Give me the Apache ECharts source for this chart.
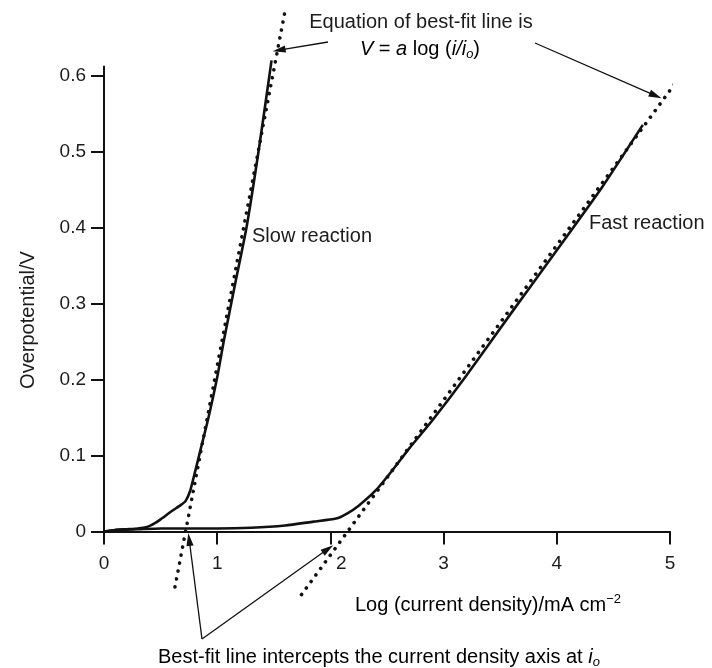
<!DOCTYPE html>
<html><head><meta charset="utf-8">
<script src="https://cdn.jsdelivr.net/npm/echarts@6/dist/echarts.min.js"></script>
<style>html,body{margin:0;padding:0;background:#fff}#c{width:712px;height:668px}</style>
</head><body><div id="c"></div>
<script>
// ---- data ----
const slowX = [0, 0.1, 0.2, 0.3, 0.38, 0.45, 0.5, 0.6, 0.68, 0.72, 0.76, 0.8, 0.86, 0.92, 1.0, 1.06, 1.16, 1.26, 1.37, 1.48];
const slowY = [0, 0.002, 0.003, 0.004, 0.006, 0.011, 0.016, 0.027, 0.035, 0.040, 0.053, 0.076, 0.112, 0.148, 0.203, 0.252, 0.327, 0.401, 0.505, 0.620];
const fastX = [0, 0.1, 0.3, 0.5, 1.0, 1.3, 1.6, 1.85, 2.05, 2.15, 2.25, 2.4, 2.55, 2.7, 2.9, 3.2, 3.6, 4.0, 4.4, 4.76];
const fastY = [0, 0.002, 0.003, 0.004, 0.004, 0.005, 0.008, 0.013, 0.017, 0.024, 0.034, 0.054, 0.081, 0.110, 0.146, 0.205, 0.288, 0.370, 0.453, 0.535];
const slowFitX = [0.627, 1.606];
const slowFitY = [-0.073, 0.690];
const fastFitX = [1.745, 5.13];
const fastFitY = [-0.083, 0.607];
const xTicks = [0, 1, 2, 3, 4, 5];
const xTickLabels = ['0', '1', '2', '3', '4', '5'];
const yTicks = [0, 0.1, 0.2, 0.3, 0.4, 0.5, 0.6];
const yTickLabels = ['0', '0.1', '0.2', '0.3', '0.4', '0.5', '0.6'];
// points the annotation arrows touch (data units)
const arrowSlowFit = [1.49, 0.632];
const arrowFastFit = [4.925, 0.570];
const arrowSlowIo = [0.745, -0.002];
const arrowFastIo = [2.025, -0.018];

const FONT = '"Liberation Sans", Arial, sans-serif';
const INK = '#111';
const TXT = '#1c1c1c';

function pairs(xs, ys) { return xs.map((x, i) => [x, ys[i]]); }

const chart = echarts.init(document.getElementById('c'));
chart.setOption({
  animation: false,
  backgroundColor: '#fff',
  textStyle: { fontFamily: FONT },
  grid: { left: 104, right: 42, top: 66.4, bottom: 136.5, containLabel: false },
  xAxis: {
    type: 'value', min: 0, max: 5, interval: 1,
    axisLine: { show: true, onZero: false, lineStyle: { color: INK, width: 2 } },
    axisTick: { show: true, length: 13, customValues: xTicks, lineStyle: { color: INK, width: 2 } },
    axisLabel: {
      customValues: xTicks, margin: 23, fontSize: 19, color: TXT, fontFamily: FONT,
      formatter: v => {
        const i = xTicks.indexOf(Math.round(v));
        const s = i >= 0 ? xTickLabels[i] : '';
        return Math.round(v) === 2 ? '{s|' + s + '}' : s;
      },
      rich: { s: { fontSize: 19, color: TXT, fontFamily: FONT, padding: [0, 0, 0, 22] } }
    },
    splitLine: { show: false }
  },
  yAxis: {
    type: 'value', min: 0, max: 0.612,
    axisLine: { show: true, onZero: false, lineStyle: { color: INK, width: 2 } },
    axisTick: { show: true, length: 13, customValues: yTicks, lineStyle: { color: INK, width: 2 } },
    axisLabel: {
      customValues: yTicks, margin: 18, fontSize: 19, color: TXT, fontFamily: FONT,
      formatter: v => {
        let best = 0;
        yTicks.forEach((t, i) => { if (Math.abs(t - v) < Math.abs(yTicks[best] - v)) best = i; });
        return yTickLabels[best];
      }
    },
    splitLine: { show: false }
  },
  series: [
    { name: 'Slow reaction', type: 'line', data: pairs(slowX, slowY), showSymbol: false, clip: false,
      smooth: 0.2, lineStyle: { color: INK, width: 2.6 }, z: 3 },
    { name: 'Fast reaction', type: 'line', data: pairs(fastX, fastY), showSymbol: false, clip: false,
      smooth: 0.2, lineStyle: { color: INK, width: 2.6 }, z: 3 },
    { name: 'Slow best fit', type: 'line', data: pairs(slowFitX, slowFitY), showSymbol: false, clip: false,
      lineStyle: { color: INK, width: 3.6, type: [0.1, 8], cap: 'round' }, z: 2 },
    { name: 'Fast best fit', type: 'line', data: pairs(fastFitX, fastFitY), showSymbol: false, clip: false,
      lineStyle: { color: INK, width: 3.6, type: [0.1, 8], cap: 'round' }, z: 2 }
  ]
});

function arrow(x1, y1, x2, y2) {
  const dx = x2 - x1, dy = y2 - y1, L = Math.hypot(dx, dy), ux = dx / L, uy = dy / L;
  const hl = 13, hw = 3.6;
  const bx = x2 - ux * hl, by = y2 - uy * hl;
  return [
    { type: 'line', shape: { x1: x1, y1: y1, x2: bx + ux * 2, y2: by + uy * 2 }, style: { stroke: INK, lineWidth: 1.3 }, z: 10 },
    { type: 'polygon', shape: { points: [[x2, y2], [bx - uy * hw, by + ux * hw], [bx + uy * hw, by - ux * hw]] }, style: { fill: INK }, z: 10 }
  ];
}
const px = p => chart.convertToPixel({ gridIndex: 0 }, p);
const pSlowFit = px(arrowSlowFit), pFastFit = px(arrowFastFit), pSlowIo = px(arrowSlowIo), pFastIo = px(arrowFastIo);

const base = { fontSize: 20, fill: TXT, fontFamily: FONT, lineHeight: 24 };
const rich = {
  n: { fontSize: 20, fontFamily: FONT, color: TXT, lineHeight: 24 },
  it: { fontSize: 20, fontFamily: FONT, fontStyle: 'italic', color: TXT, lineHeight: 24 },
  sub: { fontSize: 13, fontFamily: FONT, fontStyle: 'italic', color: TXT, lineHeight: 24, verticalAlign: 'bottom' },
  sup: { fontSize: 13, fontFamily: FONT, color: TXT, lineHeight: 24, verticalAlign: 'top' }
};

const graphics = [
  { type: 'text', style: Object.assign({}, base, { text: 'Slow reaction', x: 252, y: 236, align: 'left', verticalAlign: 'middle' }) },
  { type: 'text', style: Object.assign({}, base, { text: 'Fast reaction', x: 589, y: 223, align: 'left', verticalAlign: 'middle' }) },
  { type: 'text', style: Object.assign({}, base, { text: 'Equation of best-fit line is', x: 421, y: 22, align: 'center', verticalAlign: 'middle' }) },
  { type: 'text', style: { text: '{it|V}{n| = }{it|a}{n| log (}{it|i/i}{sub|o}{n|)}', rich: rich, x: 420, y: 49, align: 'center', verticalAlign: 'middle' } },
  { type: 'text', style: { text: '{n|Log (current density)/mA cm}{sup|−2}', rich: rich, x: 355, y: 605, align: 'left', verticalAlign: 'middle' } },
  { type: 'text', style: { text: '{n|Best-fit line intercepts the current density axis at }{it|i}{sub|o}', rich: rich, x: 158, y: 657, align: 'left', verticalAlign: 'middle' } },
  { type: 'text', rotation: Math.PI / 2, x: 28, y: 320, style: Object.assign({}, base, { text: 'Overpotential/V', x: 0, y: 0, align: 'center', verticalAlign: 'middle' }) }
]
  .concat(arrow(328, 42, pSlowFit[0], pSlowFit[1]))
  .concat(arrow(535, 43, pFastFit[0], pFastFit[1]))
  .concat(arrow(202, 639, pSlowIo[0], pSlowIo[1]))
  .concat(arrow(202, 639, pFastIo[0], pFastIo[1]));

chart.setOption({ graphic: graphics });
</script>
</body></html>
